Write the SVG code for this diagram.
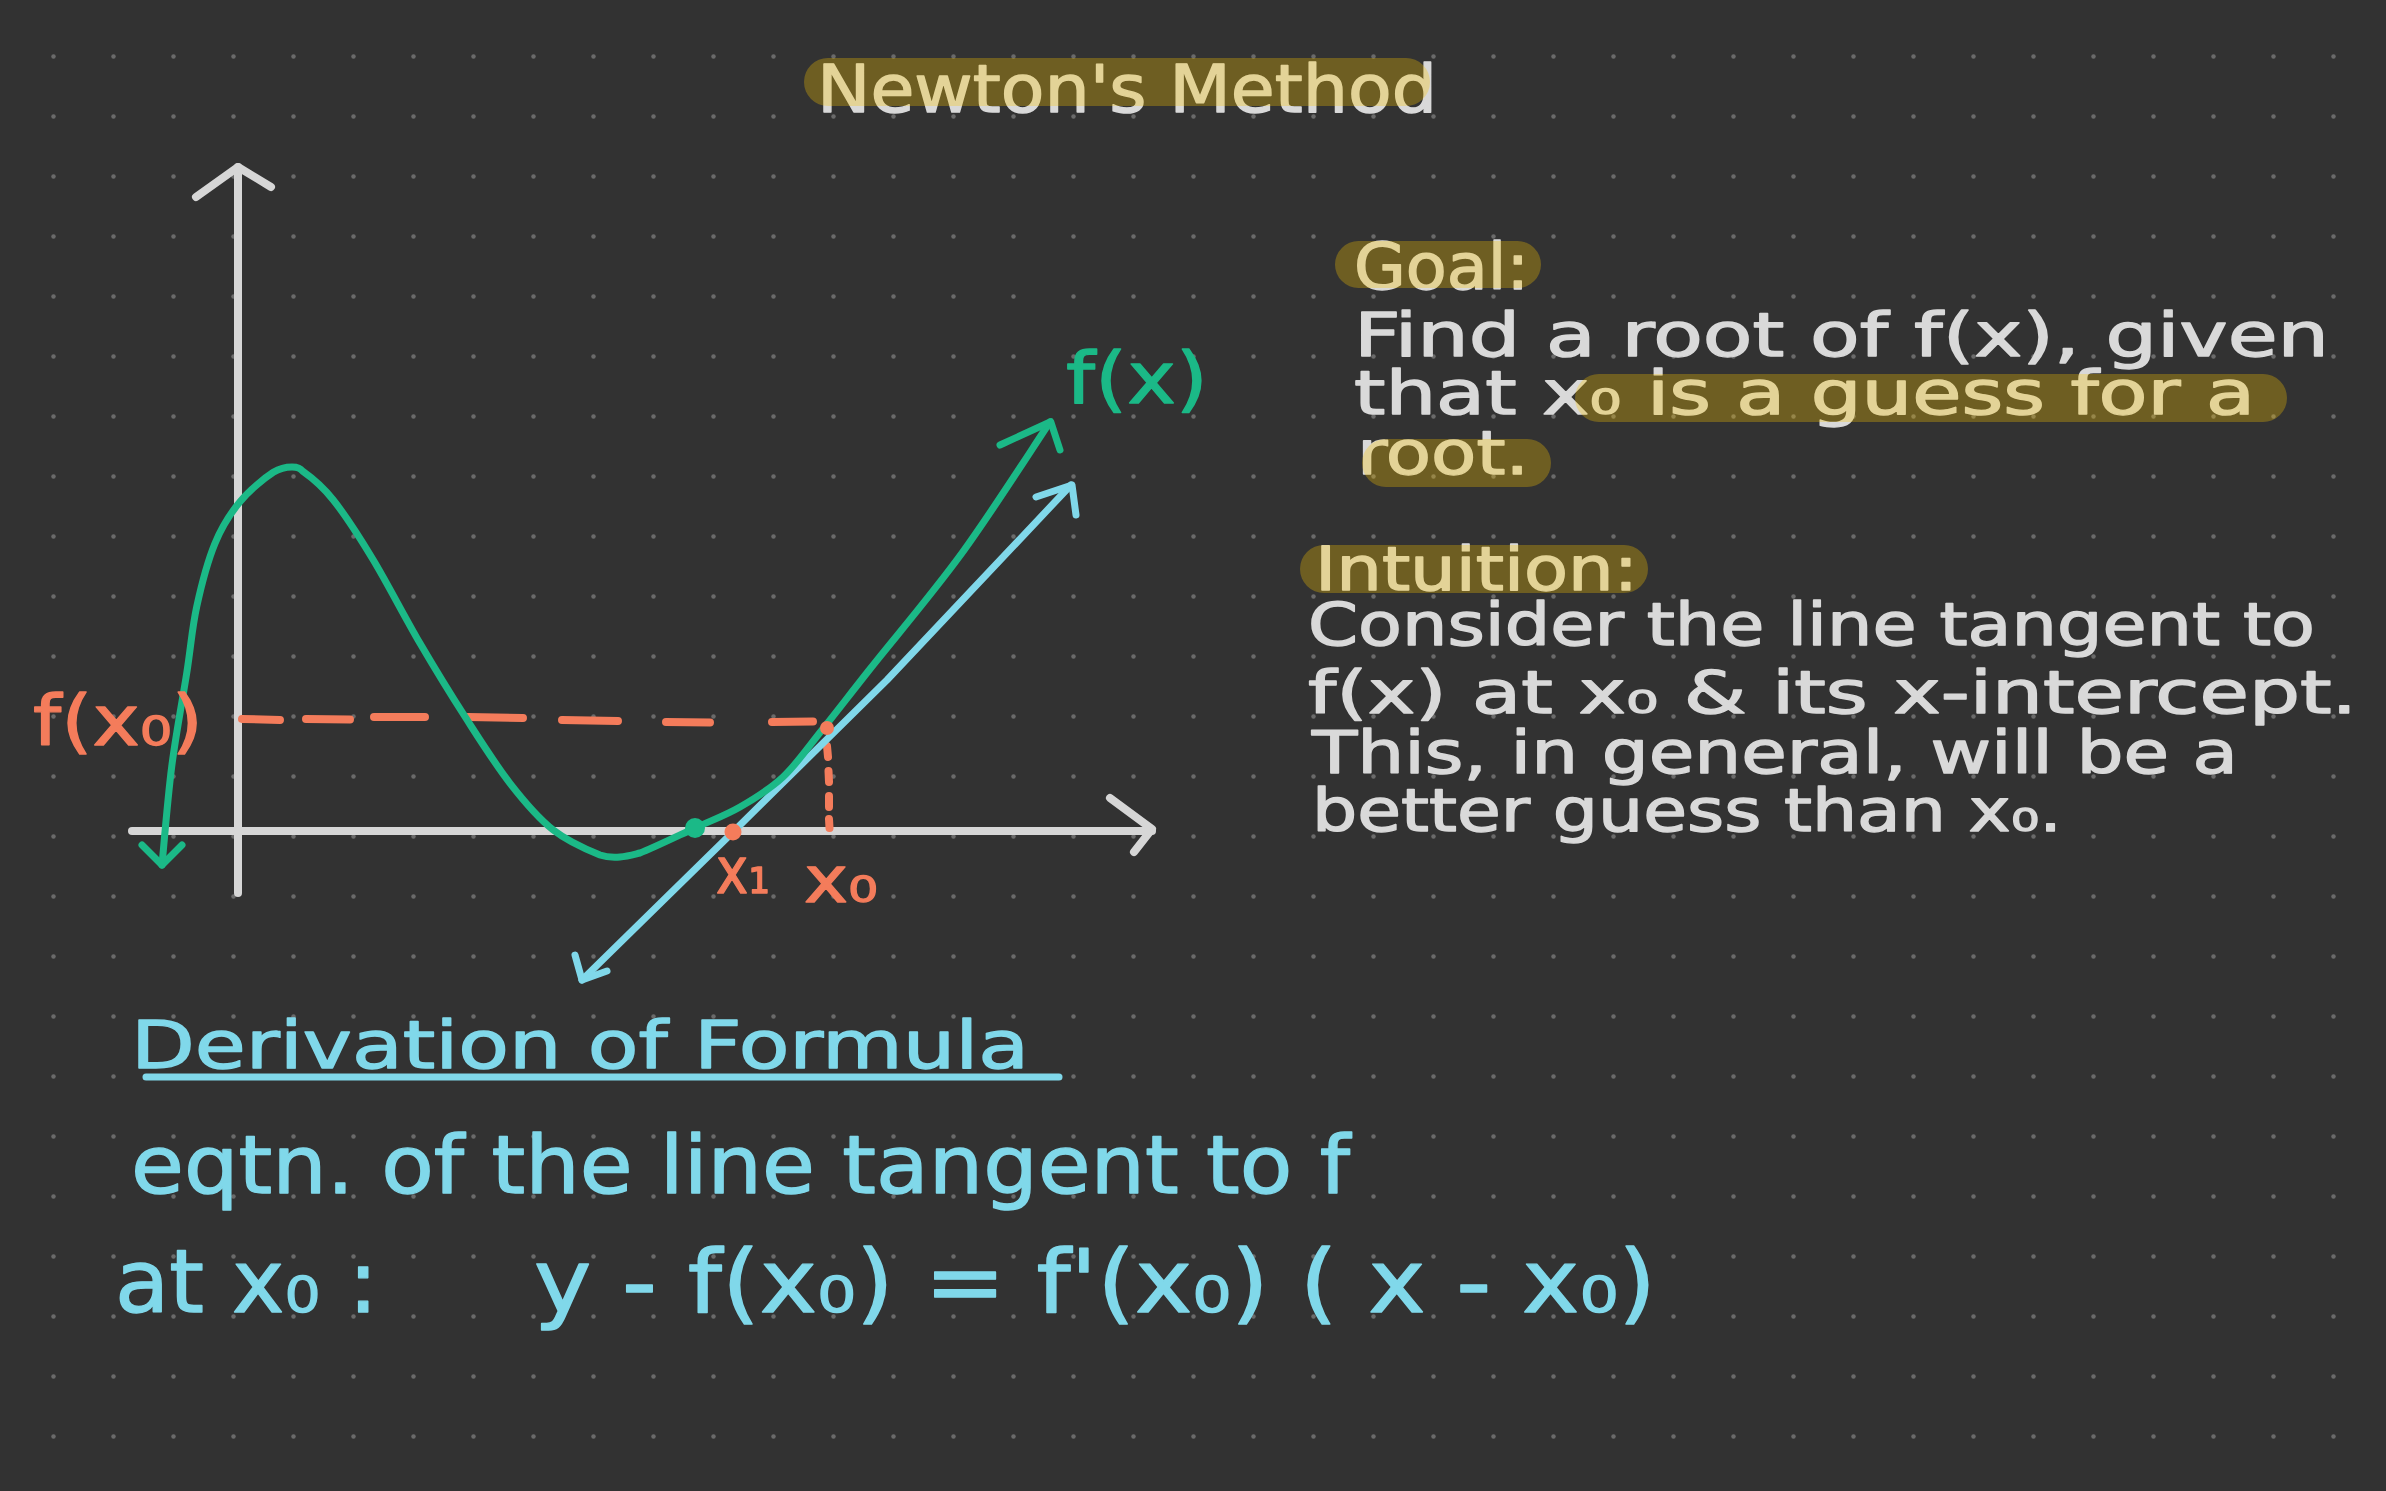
<svg xmlns="http://www.w3.org/2000/svg" width="2386" height="1491" viewBox="0 0 2386 1491">
<defs>
<pattern id="dots" x="0" y="0" width="60" height="60" patternUnits="userSpaceOnUse">
<circle cx="53.5" cy="56.5" r="2.2" fill="#6a6a6a"/>
</pattern>
<style>
.hw{font-family:"DejaVu Sans","Liberation Sans",sans-serif;stroke-width:1.4;stroke-linejoin:round;}
.w{fill:#d9d9d9;stroke:#d9d9d9;}
.c{fill:#80d8ea;stroke:#80d8ea;}
.g{fill:#1bb987;stroke:#1bb987;}
.o{fill:#f47c5b;stroke:#f47c5b;}
.hl{fill:#fbc600;opacity:0.3;}
.ax{fill:none;stroke:#d6d6d6;stroke-width:8;stroke-linecap:round;stroke-linejoin:round;}
.gr{fill:none;stroke:#1bb987;stroke-width:7;stroke-linecap:round;stroke-linejoin:round;}
.bl{fill:none;stroke:#80d8ea;stroke-width:7;stroke-linecap:round;stroke-linejoin:round;}
.or{fill:none;stroke:#f47c5b;stroke-width:8;stroke-linecap:round;}
</style>
</defs>
<rect width="2386" height="1491" fill="#323232"/>
<rect width="2386" height="1491" fill="url(#dots)"/>

<g id="title">
<text class="hw w" x="817" y="112" font-size="66" textLength="620" lengthAdjust="spacingAndGlyphs">Newton's Method</text>
<rect class="hl" x="804" y="58" width="626" height="48" rx="24"/>
</g>

<g id="goal">
<text class="hw w" x="1354" y="289" font-size="64" textLength="175" lengthAdjust="spacingAndGlyphs">Goal:</text>
<rect class="hl" x="1335" y="241" width="206" height="47" rx="23.5"/>
<text class="hw w" x="1354" y="356" font-size="60" textLength="975" lengthAdjust="spacingAndGlyphs">Find a root of f(x), given</text>
<text class="hw w" x="1354" y="414" font-size="60" textLength="901" lengthAdjust="spacingAndGlyphs">that x₀ is a guess for a</text>
<rect class="hl" x="1575" y="374" width="712" height="48" rx="24"/>
<text class="hw w" x="1357" y="474" font-size="60" textLength="172" lengthAdjust="spacingAndGlyphs">root.</text>
<rect class="hl" x="1362" y="439" width="189" height="48" rx="24"/>
</g>

<g id="intuition">
<text class="hw w" x="1315" y="590" font-size="60" textLength="323" lengthAdjust="spacingAndGlyphs">Intuition:</text>
<rect class="hl" x="1300" y="545" width="348" height="48" rx="24"/>
<text class="hw w" x="1308" y="645" font-size="58" textLength="1007" lengthAdjust="spacingAndGlyphs">Consider the line tangent to</text>
<text class="hw w" x="1308" y="713" font-size="58" textLength="1049" lengthAdjust="spacingAndGlyphs">f(x) at x₀ &amp; its x-intercept.</text>
<text class="hw w" x="1312" y="773" font-size="58" textLength="926" lengthAdjust="spacingAndGlyphs">This, in general, will be a</text>
<text class="hw w" x="1312" y="831" font-size="58" textLength="750" lengthAdjust="spacingAndGlyphs">better guess than x₀.</text>
</g>

<g id="axes">
<path class="ax" d="M238 167 L238 893"/>
<path class="ax" d="M196 197 L238 167 L271 187"/>
<path class="ax" d="M132 831 L1152 831"/>
<path class="ax" d="M1110 798 L1152 829 L1134 852"/>
</g>

<g id="connectors">
<g id="guides">
<path class="or" d="M242 719 L280 720 M306 719 L350 719.5 M374 717 L425 717 M468 717 L523 718 M562 720 L618 721 M666 722 L710 722.5 M772 722 L813 721.5"/>
<path class="or" d="M827 746 L828 757 M828.5 771 L829 782 M829 796 L829 807 M829 819 L829.5 828" stroke-width="7"/>
</g>
<g id="tangent">
<path class="bl" d="M582 980 L733 832 L887 680 L1071 485"/>
<path class="bl" d="M575 955 L582 980 L607 971"/>
<path class="bl" d="M1036 497 L1072 485 L1076 515"/>
</g>
<g id="curve">
<path class="gr" d="M162 865 C163.6 848.6 167.6 798.6 171.7 766.7 C175.8 734.8 182.5 700 186.7 673.3 C190.9 646.6 192 628.4 196.7 606.7 C201.4 585 207.8 560.8 215 543.3 C222.2 525.8 230.3 513.5 240 501.7 C249.7 489.9 265 477.7 273.3 472.3 C279 468.8 285 467 292 467 C298 467 300 468.5 303.3 471.7 C310.5 476.8 321.6 485.3 333.3 500 C345 514.7 358.9 536.1 373.3 560 C387.7 583.9 404.7 617.2 420 643.3 C435.3 669.4 450 693.4 465 716.7 C480 740 495.3 764.4 510 783.3 C524.7 802.2 538.3 818.1 553.3 830 C568.3 841.9 588.9 850.5 600 855 C607 857.5 613.3 857.5 620 857 C626.7 856.5 630 855.5 640 853 C652.5 848.2 678.3 835.7 695 828 C711.7 820.3 725.3 815.5 740 807 C754.7 798.5 769.3 789.8 783 777 C796.7 764.2 807.5 748 822 730 C836.5 712 846.7 698.5 870 669 C893.3 639.5 932 594.2 962 553 C992 511.8 1035.3 443.8 1050 422"/>
<path class="gr" d="M142 845 L162 865 L182 845"/>
<path class="gr" d="M1000 445 L1050.7 421.7 L1060 450"/>
</g>
</g>

<g id="points">
<circle cx="695" cy="828" r="10" fill="#1bb987"/>
<circle cx="733" cy="832" r="8.5" fill="#f47c5b"/>
<circle cx="827" cy="728" r="7" fill="#f47c5b"/>
</g>

<g id="graph-labels">
<text class="hw g" x="1066" y="403" font-size="72" textLength="142" lengthAdjust="spacingAndGlyphs">f(x)</text>
<text class="hw o" x="33" y="745" font-size="70" textLength="170" lengthAdjust="spacingAndGlyphs">f(x₀)</text>
<text class="hw o" x="716" y="893" font-size="64" textLength="54" lengthAdjust="spacingAndGlyphs">x₁</text>
<text class="hw o" x="804" y="902" font-size="64" textLength="74" lengthAdjust="spacingAndGlyphs">x₀</text>
</g>

<g id="derivation">
<text class="hw c" x="131" y="1068" font-size="66" textLength="898" lengthAdjust="spacingAndGlyphs">Derivation of Formula</text>
<path d="M146 1077 L1059 1077" fill="none" stroke="#80d8ea" stroke-width="7" stroke-linecap="round"/>
<text class="hw c" x="131" y="1193" font-size="80" textLength="1219" lengthAdjust="spacingAndGlyphs">eqtn. of the line tangent to f</text>
<text class="hw c" x="115" y="1312" font-size="88" textLength="263" lengthAdjust="spacingAndGlyphs">at x₀ :</text>
<text class="hw c" x="534" y="1312" font-size="88" textLength="1122" lengthAdjust="spacingAndGlyphs">y - f(x₀) = f'(x₀) ( x - x₀)</text>
</g>
</svg>
